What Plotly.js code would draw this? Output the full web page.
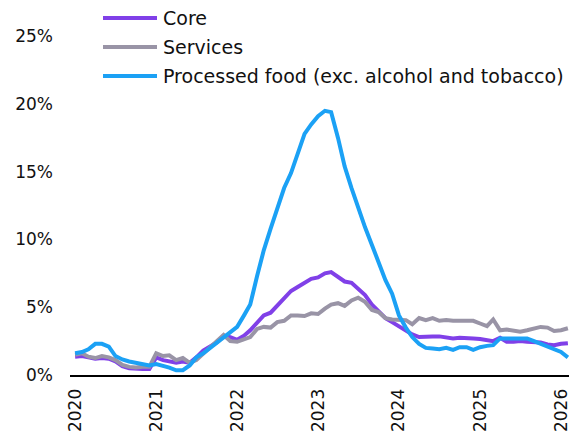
<!DOCTYPE html>
<html>
<head>
<meta charset="utf-8">
<script src="https://cdn.plot.ly/plotly-3.0.1.min.js"></script>
<style>
  html, body { margin: 0; padding: 0; background: #fff; }
  #chart { width: 569px; height: 440px; }
</style>
</head>
<body>
<div id="chart"></div>
<script>
// Monthly inflation rates, % year on year, January 2020 to February 2026
const startYear = 2020;
const seriesNames = ['Core', 'Services', 'Processed food (exc. alcohol and tobacco)'];
const seriesColors = ['#8040E8', '#9994A6', '#1BA1F5'];

const core = [
  1.35, 1.4, 1.3, 1.2, 1.25, 1.2, 1.0, 0.65, 0.5, 0.45, 0.45, 0.45,
  1.3, 1.1, 1.0, 0.9, 1.0, 0.9, 1.3, 1.8, 2.1, 2.4, 2.9, 2.8,
  2.6, 2.9, 3.3, 3.9, 4.4, 4.6, 5.1, 5.6, 6.2, 6.5, 6.8, 7.1,
  7.2, 7.5, 7.6, 7.2, 6.9, 6.8, 6.4, 5.9, 5.2, 4.7, 4.2, 3.9,
  3.6, 3.3, 3.0, 2.8, 2.85, 2.85, 2.85, 2.8, 2.7, 2.75, 2.75, 2.7,
  2.65, 2.6, 2.5, 2.75, 2.45, 2.45, 2.5, 2.45, 2.45, 2.4, 2.25, 2.2,
  2.3, 2.35
];

const services = [
  1.5, 1.6, 1.35, 1.25, 1.4, 1.3, 1.1, 0.75, 0.6, 0.55, 0.6, 0.6,
  1.6, 1.4, 1.45, 1.1, 1.25, 0.9, 1.1, 1.6, 2.0, 2.5, 2.95, 2.5,
  2.45, 2.6, 2.8, 3.4, 3.55, 3.5, 3.9, 4.0, 4.4, 4.4, 4.35, 4.55,
  4.5, 4.9, 5.2, 5.3, 5.1, 5.5, 5.7, 5.4, 4.8, 4.65, 4.2, 4.1,
  4.05, 4.05, 3.75, 4.2, 4.05, 4.2, 4.0, 4.05, 4.0, 4.0, 4.05, 4.0,
  3.8, 3.6, 4.1, 3.3, 3.35, 3.3, 3.2, 3.3, 3.4, 3.55, 3.5, 3.25,
  3.3, 3.45
];

const processedFood = [
  1.6, 1.7, 1.9, 2.3, 2.3, 2.1, 1.4, 1.15, 1.0, 0.9, 0.8, 0.7,
  0.8, 0.7, 0.55, 0.35, 0.35, 0.7, 1.3, 1.6, 2.0, 2.4, 2.8, 3.2,
  3.55, 4.4, 5.2, 7.3, 9.2, 10.8, 12.2, 13.8, 14.9, 16.3, 17.8, 18.5,
  19.1, 19.5, 19.4, 17.5, 15.4, 13.8, 12.3, 10.9, 9.6, 8.25, 7.0, 6.0,
  4.4, 3.5, 2.8, 2.3, 2.0, 1.95, 1.9, 2.0, 1.85, 2.05, 2.05, 1.85,
  2.05, 2.15, 2.2, 2.7, 2.7, 2.75, 2.75, 2.7, 2.5, 2.3, 2.1, 1.9,
  1.7, 1.3
];

const yTickVals = [0, 5, 10, 15, 20, 25];
const yTickText = ['0%', '5%', '10%', '15%', '20%', '25%'];
const xTickYears = ['2020', '2021', '2022', '2023', '2024', '2025', '2026'];

// Month dates for each observation
const months = core.map((_, i) => {
  const y = startYear + Math.floor(i / 12);
  const m = (i % 12) + 1;
  return y + '-' + String(m).padStart(2, '0') + '-01';
});

const allSeries = [core, services, processedFood];
const traces = allSeries.map((vals, k) => ({
  type: 'scatter',
  mode: 'lines',
  x: months,
  y: vals,
  name: seriesNames[k],
  line: { color: seriesColors[k], width: 4 },
  hoverinfo: 'skip',
  showlegend: false
}));

const font = "'DejaVu Sans', sans-serif";

// Figure geometry (pixels) used to place the key in paper coordinates
const W = 569, H = 440;
const M = { l: 70, r: 0, t: 2, b: 65 };
const plotW = W - M.l - M.r, plotH = H - M.t - M.b;
const px = x => (x - M.l) / plotW;
const py = y => (H - M.b - y) / plotH;

// Key: a short line sample followed by the series name
const keyRows = [18, 47, 76];
const keyShapes = seriesNames.map((_, k) => ({
  type: 'line', xref: 'paper', yref: 'paper',
  x0: px(103), x1: px(157), y0: py(keyRows[k]), y1: py(keyRows[k]),
  line: { color: seriesColors[k], width: 4 }
}));
const keyLabels = seriesNames.map((name, k) => ({
  xref: 'paper', yref: 'paper',
  x: px(161), y: py(keyRows[k]),
  xanchor: 'left', yanchor: 'middle',
  text: name, showarrow: false,
  font: { family: font, size: 19, color: '#111111' }
}));

const layout = {
  width: W,
  height: H,
  margin: M,
  paper_bgcolor: '#ffffff',
  plot_bgcolor: '#ffffff',
  font: { family: font, size: 17, color: '#111111' },
  showlegend: false,
  shapes: keyShapes,
  annotations: keyLabels,
  xaxis: {
    type: 'date',
    range: ['2019-12-09', '2026-02-06'],
    tickvals: xTickYears.map(y => y + '-01-01'),
    ticktext: xTickYears,
    tickangle: -90,
    ticklabeloverflow: 'allow',
    ticklabelstandoff: 5,
    showgrid: false,
    zeroline: false,
    showline: true,
    linecolor: '#000000',
    linewidth: 2,
    ticks: '',
    tickfont: { family: font, size: 17 },
    fixedrange: true
  },
  yaxis: {
    range: [0, 27.53],
    tickvals: yTickVals,
    ticktext: yTickText,
    showgrid: false,
    zeroline: false,
    showline: false,
    ticks: '',
    ticklabelstandoff: 16,
    tickfont: { family: font, size: 17 },
    fixedrange: true
  }
};

Plotly.newPlot('chart', traces, layout, { displayModeBar: false, staticPlot: true });
</script>
</body>
</html>
